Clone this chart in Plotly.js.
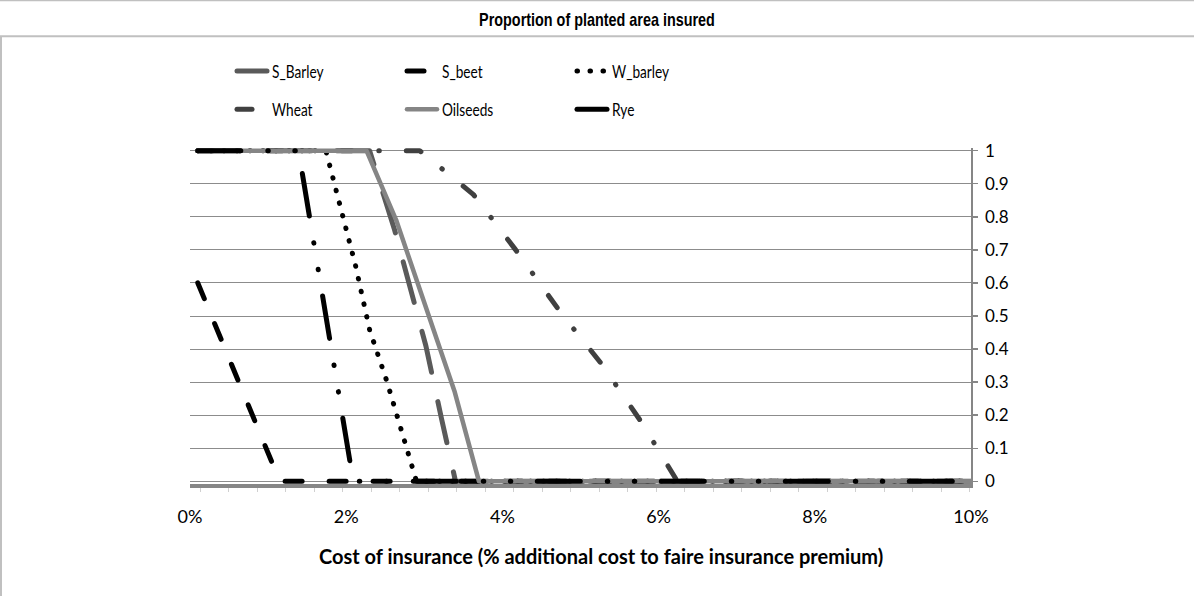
<!DOCTYPE html>
<html>
<head>
<meta charset="utf-8">
<script src="https://cdn.plot.ly/plotly-3.0.1.min.js"></script>
<style>
html,body{margin:0;padding:0;background:#fff;}
.js-line{stroke-linecap:round;stroke-linejoin:round;}
</style>
</head>
<body>
<div id="chart" style="width:1194px;height:596px;"></div>
<script>
// Data (x = cost of insurance in %, y = proportion insured)
const seriesNames = ["S_Barley","S_beet","W_barley","Wheat","Oilseeds","Rye"];
const xSBarley = [0.1, 2.30, 2.62, 3.02, 3.22, 3.40, 10];
const ySBarley = [1, 1, 0.76, 0.41, 0.19, 0, 0];
const xSbeet = [0.1, 1.15, 10];
const ySbeet = [0.6, 0, 0];
const xWbarley = [0.1, 1.74, 2.12, 2.30, 2.52, 2.90, 10];
const yWbarley = [1, 1, 0.652, 0.458, 0.303, 0, 0];
const xWheat = [0.1, 2.94, 3.43, 3.63, 4.17, 4.76, 5.26, 5.78, 6.24, 10];
const yWheat = [1, 1, 0.906, 0.867, 0.70, 0.506, 0.358, 0.179, 0, 0];
const xOilseeds = [0.1, 2.26, 2.64, 3.07, 3.39, 3.70, 10];
const yOilseeds = [1, 1, 0.79, 0.488, 0.27, 0, 0];
const xRye = [0.1, 1.39, 2.09, 10];
const yRye = [1, 1, 0, 0];
const xTickVals = [0, 2, 4, 6, 8, 10];
const xTickText = ["0%", "2%", "4%", "6%", "8%", "10%"];
const yTickVals = [0, 0.1, 0.2, 0.3, 0.4, 0.5, 0.6, 0.7, 0.8, 0.9, 1];
const yTickText = ["0", "0.1", "0.2", "0.3", "0.4", "0.5", "0.6", "0.7", "0.8", "0.9", "1"];
const chartTitle = "Proportion of planted area insured";

const body = 'Lato, "Liberation Sans", sans-serif';
const arial = '"Liberation Sans", Arial, sans-serif';

function tr(name, x, y, color, width, dash, legend) {
  return {type:'scatter', mode:'lines', name:name, x:x, y:y,
    line:{color:color, width:width, dash:dash}, legend:legend, hoverinfo:'skip'};
}
const traces = [
  tr(seriesNames[0], xSBarley, ySBarley, '#5a5a5a', 5, '42px,30px', 'legend'),
  tr(seriesNames[1], xSbeet, ySbeet, '#000000', 5, '17px,27px', 'legend'),
  tr(seriesNames[2], xWbarley, yWbarley, '#000000', 5, '0.5px,12.5px', 'legend'),
  tr(seriesNames[3], xWheat, yWheat, '#404040', 5, '15px,27px,0.5px,27px', 'legend2'),
  tr(seriesNames[4], xOilseeds, yOilseeds, '#858585', 4.5, 'solid', 'legend2'),
  tr(seriesNames[5], xRye, yRye, '#000000', 5, '43px,27px,0.5px,26.5px,0.5px,26.5px', 'legend2')
];

const plotTop = 148.4, plotBot = 483.6, plotL = 190, plotR = 971;
const ph = plotBot - plotTop, pw = plotR - plotL;
function px2x(px){ return (px - plotL) / pw; }
function py2y(py){ return (plotBot - py) / ph; }

const legendCommon = {orientation:'h', xanchor:'left', yanchor:'middle',
  entrywidth:125, entrywidthmode:'pixels', font:{family:body, size:18, color:'#000'},
  bgcolor:'rgba(0,0,0,0)', traceorder:'normal'};

const layout = {
  width:1194, height:596,
  margin:{l:plotL, r:1194-plotR, t:plotTop, b:596-plotBot, pad:0},
  paper_bgcolor:'#ffffff', plot_bgcolor:'#ffffff',
  showlegend:true,
  title:{text:chartTitle, font:{family:arial, size:18, weight:'bold', color:'#000'},
    x:0.5, xref:'container', y:1-20/596, yref:'container', yanchor:'middle', xanchor:'center'},
  xaxis:{range:[0,10], tickvals:xTickVals, ticktext:xTickText, ticks:'', showgrid:false, zeroline:false,
    showline:true, linecolor:'#868686', linewidth:4,
    tickfont:{family:body, size:18, color:'#000'}, ticklabelstandoff:13,
    minor:{tick0:0.13, dtick:0.365, ticks:'outside', ticklen:4, tickcolor:'#d0d0d0', tickwidth:1, showgrid:false}},
  yaxis:{range:[-0.008,1.008], side:'right', tickvals:yTickVals, ticktext:yTickText,
    showgrid:true, gridcolor:'#8c8c8c', gridwidth:1, zeroline:false,
    showline:true, linecolor:'#868686', linewidth:1.5, ticks:'outside', ticklen:5, tickcolor:'#868686', tickwidth:1.5,
    tickfont:{family:body, size:17, color:'#000'}, ticklabelstandoff:4},
  legend:Object.assign({}, legendCommon, {x:px2x(232), y:py2y(72)}),
  legend2:Object.assign({}, legendCommon, {x:px2x(232), y:py2y(110)}),
  annotations:[{text:'<b>Cost of insurance (% additional cost to faire insurance premium)</b>', xref:'paper', yref:'paper',
    x:px2x(601), y:py2y(555), xanchor:'center', yanchor:'middle', showarrow:false,
    font:{family:body, size:20, color:'#000'}}],
  shapes:[
    {type:'line', xref:'paper', yref:'paper', x0:px2x(0), x1:px2x(1194), y0:py2y(1), y1:py2y(1), line:{color:'#c0c0c0', width:2}},
    {type:'line', xref:'paper', yref:'paper', x0:px2x(0), x1:px2x(1194), y0:py2y(37), y1:py2y(37), line:{color:'#c0c0c0', width:2}},
    {type:'line', xref:'paper', yref:'paper', x0:px2x(1), x1:px2x(1), y0:py2y(37), y1:py2y(596), line:{color:'#c0c0c0', width:2}}
  ]
};

function squeeze(gd) {
  gd.querySelectorAll('text').forEach(function(t) {
    const txt = (t.textContent || '').trim();
    let s = null, origin = '50% 50%';
    if (seriesNames.indexOf(txt) >= 0) { s = 0.76; origin = '0% 50%'; }
    else if (txt === chartTitle) { s = 0.8; }
    if (s) {
      t.style.transformBox = 'fill-box';
      t.style.transformOrigin = origin;
      t.style.transform = 'scaleX(' + s + ')';
    }
  });
}
Plotly.newPlot('chart', traces, layout, {displayModeBar:false, staticPlot:true}).then(function(gd){
  squeeze(gd);
  gd.on('plotly_afterplot', function(){ squeeze(gd); });
});
</script>
</body>
</html>
